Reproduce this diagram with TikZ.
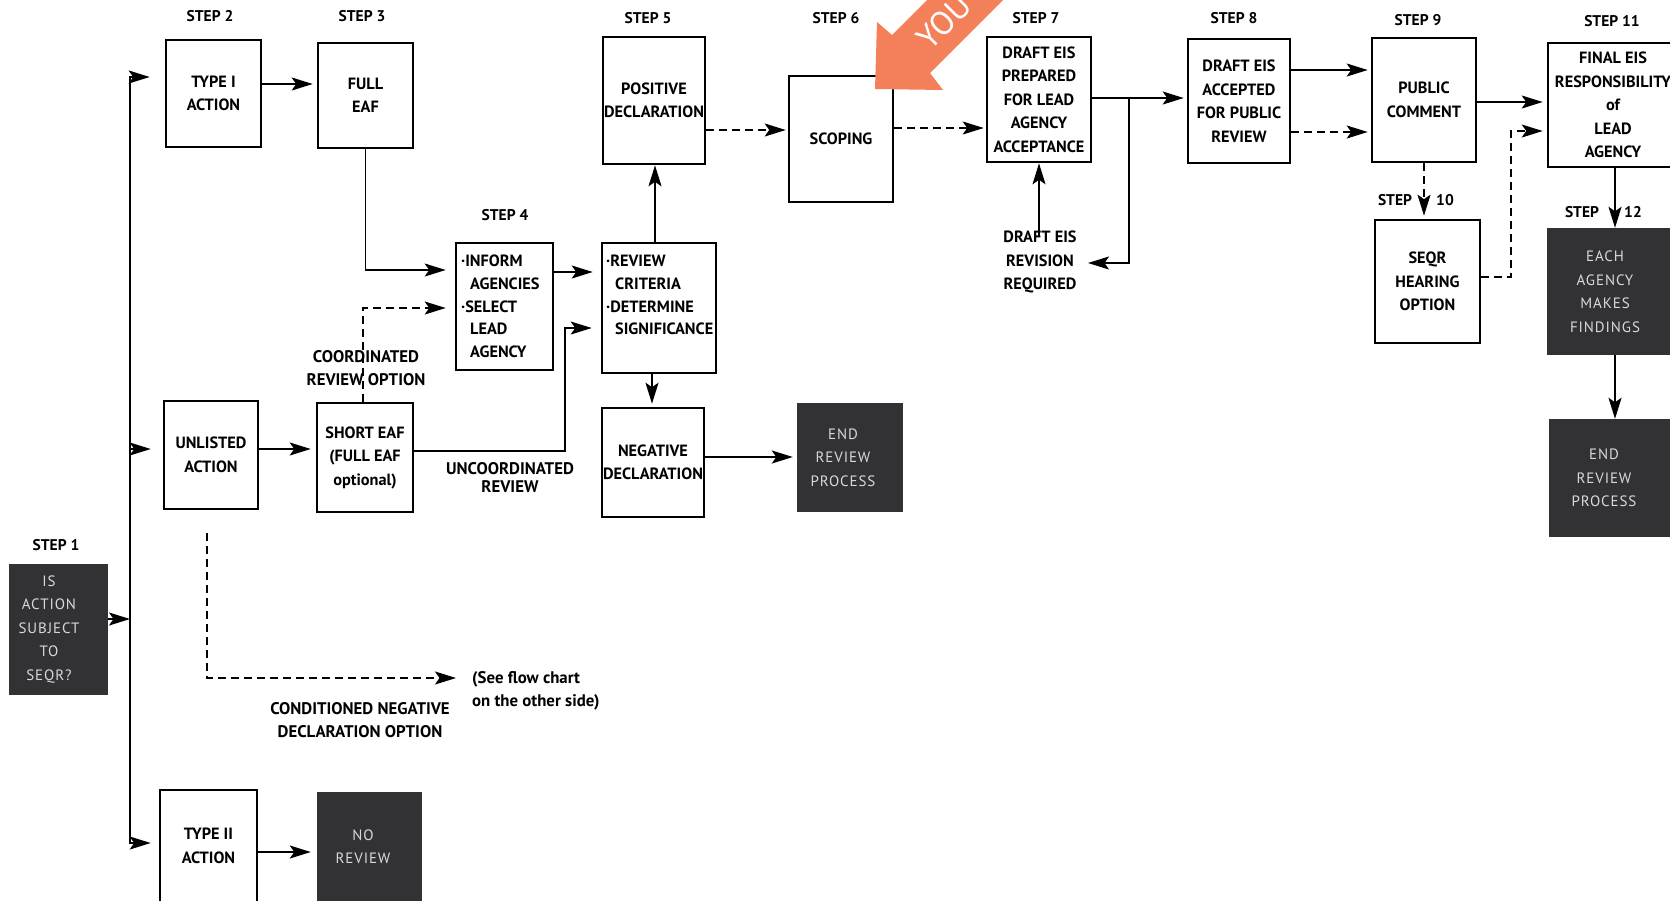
\documentclass[tikz,border=0pt]{standalone}
\usepackage{fontspec}
\setmainfont{PT Sans}
\newfontfamily\darkfont[LetterSpace=6]{PT Sans}
\usetikzlibrary{arrows.meta,calc}
\definecolor{boxdark}{RGB}{50,50,52}
\definecolor{darktext}{RGB}{214,218,224}
\definecolor{youorange}{RGB}{243,128,88}
\begin{document}
\begin{tikzpicture}[x=1pt,y=-1pt,
  >={Stealth[length=21pt,width=13pt,inset=4.5pt]},
  box/.style={draw=black,line width=2.6pt,rectangle,inner sep=0pt,align=center,
    font=\bfseries\fontsize{16.3}{23.5}\selectfont},
  dbox/.style={fill=boxdark,draw=none,rectangle,inner sep=0pt,align=center,text=darktext,
    font=\darkfont\fontsize{15}{23.5}\selectfont},
  dtxt/.style={inner sep=0pt,align=center,text=darktext,
    font=\darkfont\fontsize{15}{23.5}\selectfont},
  txt/.style={inner sep=0pt,align=left,font=\bfseries\fontsize{16.3}{22.7}\selectfont},
  lbl/.style={inner sep=0pt,align=center,font=\bfseries\fontsize{15.5}{22}\selectfont},
  note/.style={inner sep=0pt,align=center,font=\bfseries\fontsize{16.8}{23}\selectfont},
  lnk/.style={line width=1.8pt},
  dlnk/.style={lnk,dash pattern=on 8pt off 5pt},
]
\useasboundingbox (0,0) rectangle (1670,900);
\clip (0,0) rectangle (1670,900);
\fill[white] (0,0) rectangle (1670,900);

% ---------- boxes ----------
\node[dbox,minimum width=99pt,minimum height=131pt] (s1) at (58,629.5) {};
\node[dtxt] (s1txt) at (49,629.5) {IS\\ACTION\\SUBJECT\\TO\\SEQR?};
\node[box,minimum width=95pt,minimum height=107pt] (typeI) at (213.5,93.5) {TYPE I\\ACTION};
\node[box,minimum width=95pt,minimum height=105pt] (fulleaf) at (365.5,95.5) {FULL\\EAF};
\node[box,minimum width=94pt,minimum height=108pt] (unlisted) at (211,455) {UNLISTED\\ACTION};
\node[box,minimum width=96pt,minimum height=109pt] (shorteaf) at (365,457.5) {SHORT EAF\\(FULL EAF\\optional)};
\node[box,minimum width=97pt,minimum height=127pt] (inform) at (504.5,306.5) {};
\node[txt,anchor=north west] (informtxt) at (461,255) {·INFORM\\\hspace*{9pt}AGENCIES\\·SELECT\\\hspace*{9pt}LEAD\\\hspace*{9pt}AGENCY};
\node[box,minimum width=114pt,minimum height=130pt] (review) at (659,308) {};
\node[txt,anchor=north west] (reviewtxt) at (606,255) {·REVIEW\\\hspace*{9pt}CRITERIA\\·DETERMINE\\\hspace*{9pt}SIGNIFICANCE};
\node[box,minimum width=102pt,minimum height=109pt] (negdec) at (653,462.5) {NEGATIVE\\DECLARATION};
\node[dbox,minimum width=106pt,minimum height=109pt] (end1) at (850,457.5) {};
\node[dtxt] (end1txt) at (843,457.5) {END\\REVIEW\\PROCESS};
\node[box,minimum width=102pt,minimum height=127pt] (posdec) at (654,100.5) {POSITIVE\\DECLARATION};
\node[box,minimum width=104pt,minimum height=126pt] (scoping) at (841,139) {SCOPING};
\node[box,minimum width=104pt,minimum height=125pt] (drafteis) at (1039,99.5) {DRAFT EIS\\PREPARED\\FOR LEAD\\AGENCY\\ACCEPTANCE};
\node[box,minimum width=102pt,minimum height=124pt] (accepted) at (1239,101) {DRAFT EIS\\ACCEPTED\\FOR PUBLIC\\REVIEW};
\node[box,minimum width=104pt,minimum height=124pt] (public) at (1424,100) {PUBLIC\\COMMENT};
\node[box,minimum width=105pt,minimum height=123pt] (seqr) at (1427.5,281.5) {SEQR\\HEARING\\OPTION};
\node[box,minimum width=134pt,minimum height=124pt] (final) at (1615,105) {};
\node[box,draw=none] (finaltxt) at (1613,105) {FINAL EIS\\RESPONSIBILITY\\of\\LEAD\\AGENCY};
\node[dbox,minimum width=123pt,minimum height=127pt] (each) at (1608.5,291.5) {};
\node[dtxt] (eachtxt) at (1605,291.5) {EACH\\AGENCY\\MAKES\\FINDINGS};
\node[dbox,minimum width=121pt,minimum height=118pt] (end2) at (1609.5,478) {};
\node[dtxt] (end2txt) at (1604,478) {END\\REVIEW\\PROCESS};
\node[box,minimum width=97pt,minimum height=112pt] (typeII) at (208.5,846) {TYPE II\\ACTION};
\node[dbox,minimum width=105pt,minimum height=113pt] (noreview) at (369.5,848.5) {};
\node[dtxt] (noreviewtxt) at (363,846.5) {NO\\REVIEW};

% ---------- step labels ----------
\node[lbl] (st1) at (56,545) {STEP 1};
\node[lbl] (st2) at (210,16) {STEP 2};
\node[lbl] (st3) at (362,16) {STEP 3};
\node[lbl] (st4) at (505,215) {STEP 4};
\node[lbl] (st5) at (648,18) {STEP 5};
\node[lbl] (st6) at (836,18) {STEP 6};
\node[lbl] (st7) at (1036,18) {STEP 7};
\node[lbl] (st8) at (1234,18) {STEP 8};
\node[lbl] (st9) at (1418,20) {STEP 9};
\node[lbl] (st10a) at (1395,200) {STEP};
\node[lbl] (st10b) at (1445,200) {10};
\node[lbl] (st11) at (1612,21) {STEP 11};
\node[lbl] (st12a) at (1582,212) {STEP};
\node[lbl] (st12b) at (1633,212) {12};

% ---------- other texts ----------
\node[note] (coord) at (366,368) {COORDINATED\\REVIEW OPTION};
\node[note] (uncoord) at (510,477.5) {UNCOORDINATED\\[-5pt]REVIEW};
\node[box,draw=none] (revtxt) at (1040,262) {DRAFT EIS\\REVISION\\REQUIRED};
\node[note] (cond) at (360,720) {CONDITIONED NEGATIVE\\DECLARATION OPTION};
\node[note,align=left,anchor=west] (see) at (472,691) {(See flow chart\\on the other side)};

% ---------- connectors ----------
\coordinate (tTop) at (130,77);
\coordinate (tBot) at (130,843);
\coordinate (tS1) at (130,619);
\coordinate (tUn) at (130,449);
\draw[lnk,<->,shorten <=15pt,shorten >=8pt] (typeI.west |- tTop) -- (tTop) -- (tBot) -- (typeII.west |- tBot);
\draw[lnk,->] (s1.east |- tS1) -- (tS1);
\draw[lnk,->,shorten >=12pt] (tUn) -- (unlisted.west |- tUn);
\draw[lnk,->,shorten >=4pt] (typeI.east |- 0,84) -- (fulleaf.west |- 0,84);
\draw[lnk,->,shorten >=9pt] (fulleaf.south) |- (inform.west |- 0,270);
\draw[lnk,->,shorten >=5pt] (unlisted.east |- tUn) -- (shorteaf.west |- tUn);
\draw[dlnk,->,shorten >=9pt] ([xshift=-2pt]shorteaf.north) |- (inform.west |- 0,308);
\coordinate (uc1) at (565,451);
\draw[lnk,->,shorten >=9pt] (shorteaf.east |- uc1) -- (uc1) |- (review.west |- 0,328);
\draw[lnk,->,shorten >=8pt] (inform.east |- 0,272) -- (review.west |- 0,272);
\draw[lnk,->] (review.north -| 655,0) -- (posdec.south -| 655,0);
\draw[lnk,->,shorten >=3pt] (review.south -| 652,0) -- (negdec.north -| 652,0);
\draw[lnk,->,shorten >=4pt] (negdec.east |- 0,457) -- (end1.west |- 0,457);
\draw[dlnk,->,shorten >=2pt] (posdec.east |- 0,130) -- (scoping.west |- 0,130);
\draw[dlnk,->,shorten >=2pt] (scoping.east |- 0,128) -- (drafteis.west |- 0,128);
\draw[lnk,->,shorten >=3pt] (drafteis.east |- 0,98) -- (accepted.west |- 0,98);
\coordinate (rv) at (1129,98);
\coordinate (rvtip) at (1088,263);
\draw[lnk,->] (rv) |- (rvtip);
\draw[lnk,->,shorten <=-6pt] (drafteis.south |- revtxt.north) -- (drafteis.south);
\draw[lnk,->,shorten >=3pt] (accepted.east |- 0,70) -- (public.west |- 0,70);
\draw[dlnk,->,shorten >=3pt] (accepted.east |- 0,132) -- (public.west |- 0,132);
\draw[lnk,->,shorten >=4pt] (public.east |- 0,102) -- (final.west |- 0,102);
\draw[dlnk,->,shorten >=3pt] (public.south) -- (seqr.north -| public.south);
\coordinate (sq2) at (1511,131);
\draw[dlnk,->,shorten >=4pt] (seqr.east |- 0,277) -| (sq2) -- (final.west |- sq2);
\draw[lnk,->] (final.south -| 1615,0) -- (each.north -| 1615,0);
\draw[lnk,->] (each.south -| 1615,0) -- (end2.north -| 1615,0);
\draw[lnk,->,shorten >=6pt] (typeII.east |- 0,852) -- (noreview.west |- 0,852);
\draw[dlnk,->,shorten <=23pt,shorten >=16pt] (unlisted.south -| 207,0) |- (see.west |- 0,678);

% ---------- orange "YOU" arrow ----------
\fill[youorange] (875,89) -- (877,22) -- (892,35) -- (1042,-115) -- (1080,-77) -- (930,73) -- (943,90) -- cycle;
\node[text=white,rotate=45,inner sep=0pt,font=\fontsize{33}{33}\selectfont] (you) at (944,22) {YOU};
\end{tikzpicture}
\end{document}
